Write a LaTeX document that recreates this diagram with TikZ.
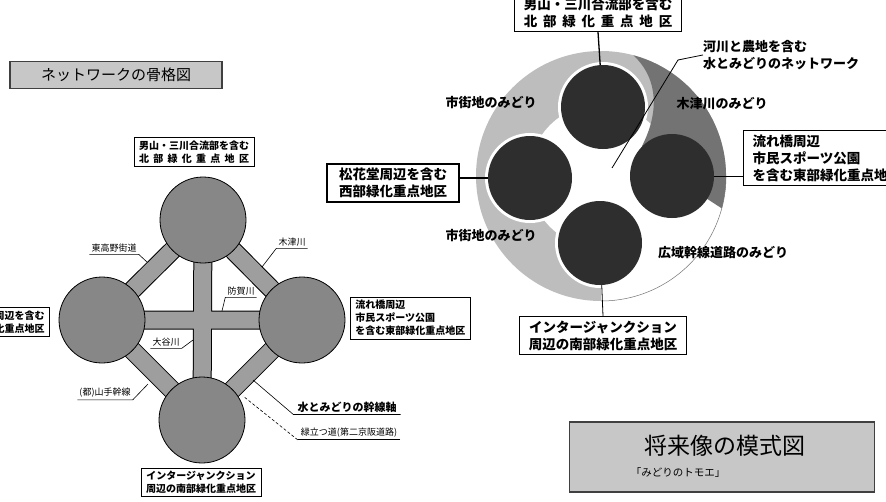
\documentclass[tikz,border=0pt]{standalone}
\usepackage{fontspec}
\setmainfont{Noto Sans CJK JP}
\begin{document}
\begin{tikzpicture}[x=1pt,y=-1pt,
 lbox/.style={draw,line width=0.7,fill=white,inner xsep=5,inner ysep=3,font=\bfseries\fontsize{10}{13}\selectfont,align=center},
 rbox/.style={draw,line width=1.3,fill=white,inner xsep=9,inner ysep=4,font=\bfseries\fontsize{13.5}{17}\selectfont,align=left},
 tag/.style={font=\fontsize{9}{9}\selectfont,inner xsep=2,inner ysep=2},
 lead/.style={line width=0.6},
 bandout/.style={line width=19,black},
 bandin/.style={line width=17,black!38},
 lcirc/.style={circle,draw,line width=0.8,fill=black!47,minimum size=86,inner sep=0},
 dcirc/.style={circle,fill=black!82,minimum size=84,inner sep=0},
 titlebox/.style={draw=black!75,line width=1.2,fill=black!22},
 rlabel/.style={font=\bfseries\fontsize{13}{17}\selectfont,inner sep=0}]
\useasboundingbox (0,0) rectangle (886,501);
\fill[white] (0,0) rectangle (886,501);

% ---------------- left: network skeleton ----------------
\node[titlebox,minimum width=212,minimum height=27,font=\fontsize{15}{15}\selectfont] (ltitle) at (116,75) {ネットワークの骨格図};

\coordinate (T) at (203,220);
\coordinate (L) at (102,320);
\coordinate (R) at (302,320);
\coordinate (B) at (202,420);
\draw[bandout] (T)--(L) (T)--(R) (B)--(L) (B)--(R) (T)--(B) (L)--(R);
\draw[bandin] (T)--(L) (T)--(R) (B)--(L) (B)--(R) (T)--(B) (L)--(R);
\node[lcirc] (cT) at (T) {};
\node[lcirc] (cL) at (L) {};
\node[lcirc] (cR) at (R) {};
\node[lcirc] (cB) at (B) {};

\node[lbox] (ltop) at (194,152) {男山・三川合流部を含む\\\makebox[11em][s]{北\hfill 部\hfill 緑\hfill 化\hfill 重\hfill 点\hfill 地\hfill 区}};
\node[lbox,anchor=east] (lwest) at (50,322) {松花堂周辺を含む\\西部緑化重点地区};
\node[lbox,align=left,anchor=north west] (least) at (350,297) {流れ橋周辺\\市民スポーツ公園\\を含む東部緑化重点地区};
\node[lbox,anchor=north] (lsouth) at (201,468) {インタージャンクション\\周辺の南部緑化重点地区};

\coordinate (p1) at (147,262);
\coordinate (p2) at (262,267);
\coordinate (p3) at (222,311);
\coordinate (p4) at (193,340);
\coordinate (p5) at (148,384);
\coordinate (p6) at (253,380);
\coordinate (p7) at (243,396);
\node[tag] (t1) at (114,248) {東高野街道};
\draw[lead] (t1.south west) -- (t1.south east) -- (p1);
\node[tag] (t2) at (292,242) {木津川};
\draw[lead] (t2.south east) -- (t2.south west) -- (p2);
\node[tag] (t3) at (241,291) {防賀川};
\draw[lead] (t3.south east) -- (t3.south west) -- (p3);
\node[tag] (t4) at (166,342) {大谷川};
\draw[lead] (t4.south west) -- (t4.south east) -- (p4);
\node[tag] (t5) at (105,393) {(都)山手幹線};
\draw[lead] (t5.south west) -- (t5.south east) -- (p5);
\node[tag,font=\bfseries\fontsize{11}{11}\selectfont,inner xsep=4] (t6) at (347,407) {水とみどりの幹線軸};
\draw[lead] (t6.south east) -- (t6.south west) -- (p6);
\node[tag,inner xsep=3] (t7) at (349,433) {緑立つ道(第二京阪道路)};
\draw[lead,line width=0.9] (t7.south east) -- (t7.south west);
\draw[lead,densely dashed] (t7.south west) -- (p7);

% ---------------- right: tomoe ----------------
\coordinate (C) at (601,176);
\coordinate (N) at (603,107);
\coordinate (W) at (530,178);
\coordinate (E) at (672,176);
\coordinate (S) at (600,243);
\coordinate (tip) at ([shift={(-75:125)}]C);
\coordinate (tq) at (642,146);

\fill[black!26] (C) circle[radius=125];
\fill[white] (C) -- ([shift={(0:126)}]C) arc[start angle=0,end angle=90,radius=126] -- cycle;
\draw[black!55,line width=0.5] ([shift={(0:125)}]C) arc[start angle=0,end angle=90,radius=125];
\fill[white] (C) circle[radius=72];
\fill[black!55] (tip) arc[start angle=-75,end angle=15,radius=125] -- (E) -- (tq) .. controls (658,115) and (660,80) .. (tip) -- cycle;
\fill[white] (N) circle[radius=45];
\fill[white] (W) circle[radius=45];
\fill[white] (S) circle[radius=45];

\node[rbox,align=center,anchor=south] (nbox) at (598,32) {男山・三川合流部を含む\\\makebox[11em][s]{北\hfill 部\hfill 緑\hfill 化\hfill 重\hfill 点\hfill 地\hfill 区}};
\draw[line width=1.3] (nbox.south) -- (N);

\node[dcirc] (dN) at (N) {};
\node[dcirc] (dW) at (W) {};
\node[dcirc] (dE) at (E) {};
\node[dcirc] (dS) at (S) {};

\node[rlabel,align=left,anchor=north west] (kasen) at (703,40) {河川と農地を含む\\水とみどりのネットワーク};
\coordinate (k1) at (678,60);
\coordinate (k2) at (612,168);
\draw[line width=0.8] (kasen.west) -- (k1) -- (k2);

\node[rlabel] (m1) at (491,103) {市街地のみどり};
\node[rlabel] (kz) at (722,104) {木津川のみどり};
\node[rlabel] (m2) at (491,236) {市街地のみどり};
\node[rlabel] (kd) at (723,253) {広域幹線道路のみどり};

\node[rbox,align=center,inner xsep=12] (wbox) at (393,183) {松花堂周辺を含む\\西部緑化重点地区};
\draw[line width=1.3] (wbox.east |- W) -- (dW);

\node[rbox,anchor=north west,inner xsep=9] (ebox) at (743,130) {流れ橋周辺\\市民スポーツ公園\\を含む東部緑化重点地区};
\draw[line width=0.8] (dE) -- (ebox.west |- E);

\node[rbox,align=center,anchor=north] (sbox) at (603,316) {インタージャンクション\\周辺の南部緑化重点地区};
\draw[line width=0.8] (sbox.north) -- (dS);

\node[titlebox,minimum width=305,minimum height=70] (rtitle) at (722,457) {};
\node[font=\fontsize{23}{23}\selectfont,inner sep=0] (rt1) at (725,446) {将来像の模式図};
\node[font=\fontsize{10.5}{10.5}\selectfont,inner sep=0] (rt2) at (678,473) {「みどりのトモエ」};
\end{tikzpicture}
\end{document}
